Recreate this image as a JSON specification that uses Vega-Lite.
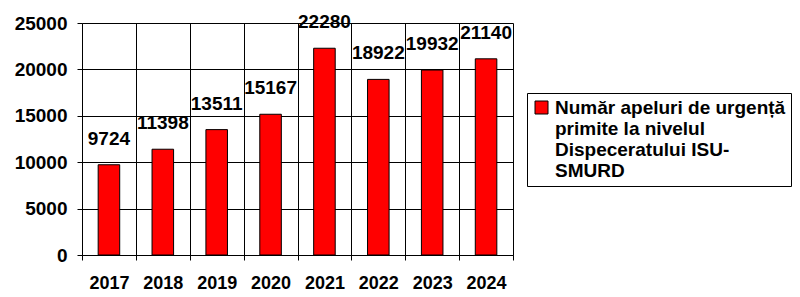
{
  "$schema": "https://vega.github.io/schema/vega-lite/v6.json",
  "width": 431,
  "height": 232,
  "autosize": "none",
  "padding": {"left": 82, "top": 23, "right": 287, "bottom": 42},
  "background": "white",
  "config": {
    "view": {"stroke": null},
    "font": "Liberation Sans"
  },
  "data": {
    "values": [
      {"year": "2017", "calls": 9724, "series": "Număr apeluri de urgență primite la nivelul Dispeceratului ISU-SMURD"},
      {"year": "2018", "calls": 11398, "series": "Număr apeluri de urgență primite la nivelul Dispeceratului ISU-SMURD"},
      {"year": "2019", "calls": 13511, "series": "Număr apeluri de urgență primite la nivelul Dispeceratului ISU-SMURD"},
      {"year": "2020", "calls": 15167, "series": "Număr apeluri de urgență primite la nivelul Dispeceratului ISU-SMURD"},
      {"year": "2021", "calls": 22280, "series": "Număr apeluri de urgență primite la nivelul Dispeceratului ISU-SMURD"},
      {"year": "2022", "calls": 18922, "series": "Număr apeluri de urgență primite la nivelul Dispeceratului ISU-SMURD"},
      {"year": "2023", "calls": 19932, "series": "Număr apeluri de urgență primite la nivelul Dispeceratului ISU-SMURD"},
      {"year": "2024", "calls": 21140, "series": "Număr apeluri de urgență primite la nivelul Dispeceratului ISU-SMURD"}
    ]
  },
  "encoding": {
    "x": {
      "field": "year",
      "type": "nominal",
      "scale": {"paddingInner": 0, "paddingOuter": 0},
      "axis": {
        "title": null,
        "labelAngle": 0,
        "labelFont": "Liberation Sans",
        "labelFontSize": 18,
        "labelFontWeight": "bold",
        "labelColor": "black",
        "labelPadding": 14,
        "tickBand": "extent",
        "tickSize": 5,
        "tickColor": "black",
        "domainColor": "black",
        "grid": true,
        "gridColor": "black",
        "gridOpacity": 1
      }
    },
    "y": {
      "field": "calls",
      "type": "quantitative",
      "scale": {"domain": [0, 25000], "nice": false},
      "axis": {
        "title": null,
        "values": [0, 5000, 10000, 15000, 20000, 25000],
        "format": "d",
        "labelFont": "Liberation Sans",
        "labelFontSize": 19,
        "labelFontWeight": "bold",
        "labelColor": "black",
        "labelPadding": 10,
        "tickSize": 5,
        "tickColor": "black",
        "domainColor": "black",
        "grid": true,
        "gridColor": "black",
        "gridOpacity": 1
      }
    }
  },
  "layer": [
    {
      "mark": {"type": "bar", "width": {"band": 0.4}, "stroke": "black", "strokeWidth": 1},
      "encoding": {
        "color": {
          "field": "series",
          "type": "nominal",
          "scale": {"range": ["#FF0000"]},
          "legend": {
            "title": null,
            "orient": "none",
            "legendX": 445,
            "legendY": 70,
            "strokeColor": "black",
            "fillColor": "white",
            "padding": 5,
            "labelFont": "Liberation Sans",
            "labelFontSize": 19,
            "labelFontWeight": "bold",
            "labelColor": "black",
            "labelLimit": 400,
            "labelOffset": 4,
            "labelExpr": "['Număr apeluri de urgență', 'primite la nivelul', 'Dispeceratului ISU-', 'SMURD']",
            "symbolType": "square",
            "symbolSize": 169,
            "symbolStrokeColor": "black",
            "symbolStrokeWidth": 1,
            "symbolOpacity": 1
          }
        }
      }
    },
    {
      "mark": {"type": "text", "font": "Liberation Sans", "fontSize": 19, "fontWeight": "bold", "color": "black", "baseline": "alphabetic", "dy": -20},
      "encoding": {
        "text": {"field": "calls", "type": "quantitative", "format": "d"}
      }
    }
  ]
}
